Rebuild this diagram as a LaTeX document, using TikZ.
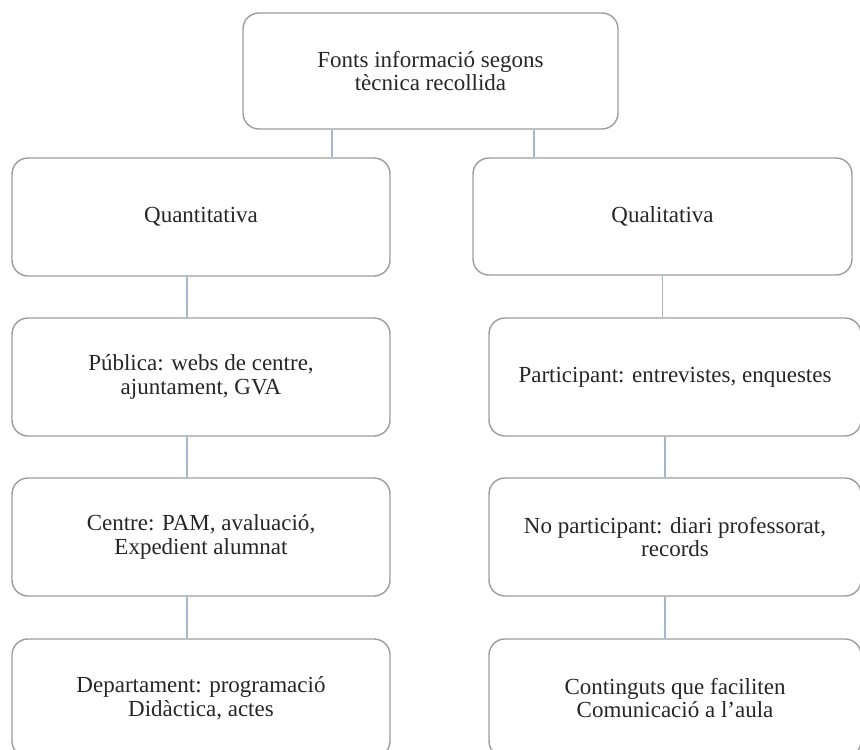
\documentclass[tikz,border=0pt]{standalone}
\usepackage{fontspec}
\setmainfont{Liberation Serif}
\usepackage{xcolor}
\usepackage{tikz}

\definecolor{vora}{HTML}{9C9C9C}
\definecolor{linia}{HTML}{A3B6CB}

\begin{document}
\begin{tikzpicture}[x=0.5pt, y=-0.5pt,
		caixa/.style={draw=vora, line width=0.7pt, rounded corners=8pt, align=center,
			text=black!85, inner sep=0pt, font=\fontsize{11.5}{11.9}\selectfont},
		esq/.style={caixa, minimum width=189pt, minimum height=59pt},
		dre/.style={caixa, minimum width=186pt, minimum height=59pt}]
		\useasboundingbox (0,0) rectangle (860,749);
		\draw[linia, line width=0.6pt]
		node[caixa, minimum width=187.5pt, minimum height=58pt] at (430.5,71) (fonts) {Fonts informació segons\\tècnica recollida}
		node[esq] at (201,217) (quan) {Quantitativa}
		node[caixa, minimum width=189.5pt, minimum height=58.5pt] at (662.5,216.5) (qual) {Qualitativa}
		node[esq] at (201,377) (pub) {Pública: webs de centre,\\ajuntament, GVA}
		node[esq] at (201,537) (cen) {Centre: PAM, avaluació,\\Expedient alumnat}
		node[esq] at (201,698) (dep) {Departament: programació\\Didàctica, actes}
		node[dre] at (675,377) (par) {Participant: entrevistes, enquestes}
		node[dre] at (675,537) (nopar) {No participant: diari professorat,\\records}
		node[dre] at (675,698) (cont) {Continguts que faciliten\\Comunicació a l'aula}
		([xshift=-49.25pt]fonts.south) -- ([xshift=-49.25pt]fonts.south |- quan.north)
		([xshift=51.75pt]fonts.south) -- ([xshift=51.75pt]fonts.south |- qual.north)
		([xshift=-7pt]quan.south) -- ([xshift=-7pt]pub.north)
		([xshift=-7pt]pub.south) -- ([xshift=-7pt]cen.north)
		([xshift=-7pt]cen.south) -- ([xshift=-7pt]dep.north)
		(qual.south) -- (qual.south |- par.north)
		([xshift=-5pt]par.south) -- ([xshift=-5pt]nopar.north)
		([xshift=-5pt]nopar.south) -- ([xshift=-5pt]cont.north);
	\end{tikzpicture}
\end{document}
